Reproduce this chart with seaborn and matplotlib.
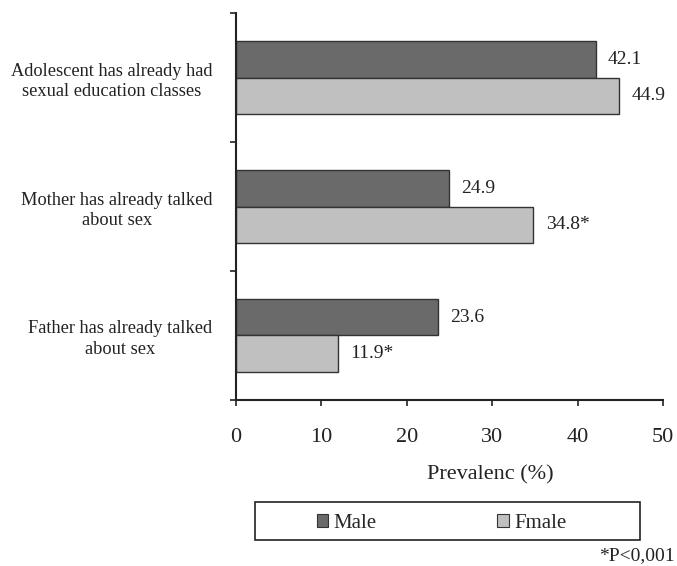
import matplotlib
matplotlib.use("Agg")
import matplotlib.pyplot as plt
from matplotlib.patches import Rectangle
import seaborn as sns
import pandas as pd

categories = [
    "Adolescent has already had\nsexual education classes",
    "Mother has already talked\nabout sex",
    "Father has already talked\nabout sex",
]
male = [42.1, 24.9, 23.6]
female = [44.9, 34.8, 11.9]
male_labels = ["42.1", "24.9", "23.6"]
female_labels = ["44.9", "34.8*", "11.9*"]
groups = ["Male", "Fmale"]
x_ticks = [0, 10, 20, 30, 40, 50]


def build_frame():
    rows = []
    for cat, m, f in zip(categories, male, female):
        rows.append({"item": cat, "sex": "Male", "value": m})
        rows.append({"item": cat, "sex": "Fmale", "value": f})
    return pd.DataFrame(rows)


def render_plot(df, output_path):
    sns.set_style("white")
    plt.rcParams["font.family"] = ["Liberation Serif", "DejaVu Serif"]

    fig = plt.figure(figsize=(6.77, 5.66), dpi=100)
    ax = fig.add_axes([0.3486, 0.2933, 0.6307, 0.6837])

    sns.barplot(data=df, y="item", x="value", hue="sex", hue_order=groups,
                palette=["#6a6a6a", "#c0c0c0"], edgecolor="#333333",
                linewidth=1.0, width=0.57, orient="h", ax=ax, legend=False)

    for cont, labs in zip(ax.containers, [male_labels, female_labels]):
        ax.bar_label(cont, labels=labs, padding=9, fontsize=14, color="#222222")

    ax.set_xlim(0, 50)
    ax.set_ylim(2.5, -0.5)
    ax.set_xticks(x_ticks)
    ax.set_xticklabels([str(t) for t in x_ticks], fontsize=16, color="#222222")
    ax.tick_params(axis="x", direction="out", length=4, width=1.2, pad=16,
                   bottom=True, color="#222222")

    ax.set_yticks(range(len(categories)))
    ax.set_yticklabels(categories, fontsize=13.2, color="#222222",
                       multialignment="center", linespacing=1.3)
    ax.tick_params(axis="y", which="major", length=0, pad=17)
    ax.set_yticks([-0.5, 0.5, 1.5, 2.5], minor=True)
    ax.tick_params(axis="y", which="minor", direction="out", length=4,
                   width=1.2, left=True, color="#222222")

    ax.set_ylabel("")
    ax.set_xlabel("Prevalenc (%)", fontsize=16, color="#222222")
    ax.xaxis.set_label_coords(0.595, -0.168)

    sns.despine(ax=ax)
    for side in ["left", "bottom"]:
        ax.spines[side].set_color("#222222")
        ax.spines[side].set_linewidth(1.5)

    # legend box drawn separately so it can be wider than its content
    fig.patches.append(Rectangle((0.3767, 0.046), 0.5687, 0.067,
                                 transform=fig.transFigure, fill=False,
                                 edgecolor="#222222", linewidth=1.2))
    handles = [Rectangle((0, 0), 1, 1, facecolor=c, edgecolor="#333333", linewidth=0.8)
               for c in ["#6a6a6a", "#c0c0c0"]]
    fig.legend(handles, groups, loc="center", bbox_to_anchor=(0.652, 0.075),
               ncol=2, frameon=False, fontsize=15, handlelength=0.55,
               handleheight=0.55, handletextpad=0.25, columnspacing=5.8)

    fig.text(0.997, 0.018, "*P<0,001", ha="right", va="center", fontsize=14,
             color="#222222")

    plt.savefig(output_path, dpi=100)


def main():
    df = build_frame()
    render_plot(df, "out.png")


if __name__ == "__main__":
    main()
